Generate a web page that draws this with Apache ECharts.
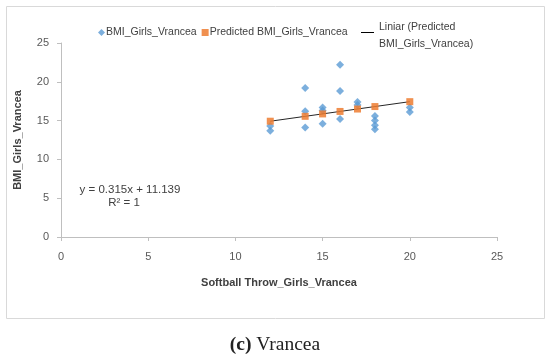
<!DOCTYPE html>
<html><head><meta charset="utf-8">
<script src="https://cdn.jsdelivr.net/npm/echarts@6/dist/echarts.min.js"></script>
<style>html,body{margin:0;padding:0;background:#fff}#c{width:550px;height:358px}</style>
</head><body><div id="c"></div>
<script>
// Observed data
const bmiX = [12, 12, 14, 14, 14, 15, 15, 15, 16, 16, 16, 17, 17, 18, 18, 18, 18, 20, 20];
const bmiY = [14.3, 13.7, 19.2, 16.2, 14.1, 16.7, 16.3, 14.6, 22.2, 18.8, 15.2, 17.4, 17.0, 15.6, 15.0, 14.4, 13.9, 16.7, 16.1];
// Predicted values
const predX = [12, 14, 15, 16, 17, 18, 20];
const predY = [14.92, 15.55, 15.86, 16.18, 16.49, 16.81, 17.44];
// Trend line end points
const trendX = [12, 20];
const trendY = [14.92, 17.44];
const xTicks = [0, 5, 10, 15, 20, 25];
const yTicks = [0, 5, 10, 15, 20, 25];

const font = '"Liberation Sans", Arial, sans-serif';
const chart = echarts.init(document.getElementById('c'), null, {renderer: 'canvas'});
const axisCommon = {
  min: 0, max: 25, interval: 5,
  axisLine: {show: true, lineStyle: {color: '#bfbfbf', width: 1}},
  axisTick: {show: true, length: 4, lineStyle: {color: '#bfbfbf'}},
  splitLine: {show: false},
  nameTextStyle: {fontFamily: font, fontWeight: 'bold', fontSize: 11, color: '#404040'}
};
const trendName = 'Liniar (Predicted\nBMI_Girls_Vrancea)';
chart.setOption({
  animation: false,
  grid: {left: 61, right: 53, top: 43, bottom: 121},
  legend: [{
    left: 93, top: 22, itemGap: 5, itemWidth: 7, itemHeight: 7,
    textStyle: {fontFamily: font, fontSize: 10.5, color: '#404040', padding: [0, 0, 0, -4]},
    data: [
      {name: 'BMI_Girls_Vrancea', icon: 'diamond'},
      {name: 'Predicted BMI_Girls_Vrancea', icon: 'rect'}
    ]
  }, {
    left: 356, top: 14, itemWidth: 13, itemHeight: 12,
    textStyle: {fontFamily: font, fontSize: 10.5, color: '#404040', lineHeight: 17},
    data: [{name: trendName, icon: 'path://M0,0 L20,0 L20,1.2 L0,1.2 Z M0,12 L20,12', itemStyle: {color: '#000'}}]
  }],
  xAxis: Object.assign({}, axisCommon, {
    type: 'value', name: 'Softball Throw_Girls_Vrancea', nameLocation: 'middle', nameGap: 40,
    axisLabel: {margin: 14, fontFamily: font, fontSize: 11, color: '#595959',
      formatter: v => xTicks.includes(v) ? String(v) : ''}
  }),
  yAxis: Object.assign({}, axisCommon, {
    type: 'value', name: 'BMI_Girls_Vrancea', nameLocation: 'middle', nameGap: 38,
    axisLabel: {margin: 12, fontFamily: font, fontSize: 11, color: '#595959',
      formatter: v => yTicks.includes(v) ? String(v) : ''}
  }),
  series: [
    {name: trendName, type: 'line', data: trendX.map((x, i) => [x, trendY[i]]),
      symbol: 'none', lineStyle: {color: '#262626', width: 1}, itemStyle: {color: '#000'}, z: 3},
    {name: 'BMI_Girls_Vrancea', type: 'scatter', symbol: 'diamond', symbolSize: 8,
      itemStyle: {color: '#5b9bd5'}, data: bmiX.map((x, i) => [x, bmiY[i]]), z: 2},
    {name: 'Predicted BMI_Girls_Vrancea', type: 'scatter', symbol: 'rect', symbolSize: 7,
      itemStyle: {color: '#ed7d31', opacity: 0.85}, data: predX.map((x, i) => [x, predY[i]]), z: 4}
  ],
  graphic: [
    {type: 'rect', left: 4, top: 4, shape: {width: 538, height: 312}, silent: true,
      style: {fill: 'none', stroke: '#d9d9d9', lineWidth: 1}},
    {type: 'text', x: 130, y: 184, style: {text: 'y = 0.315x + 11.139', align: 'center',
      fontFamily: font, fontSize: 11.5, fill: '#404040'}},
    {type: 'text', x: 124, y: 197, style: {text: 'R² = 1', align: 'center',
      fontFamily: font, fontSize: 11.5, fill: '#404040'}},
    {type: 'text', x: 275, y: 335, style: {
      text: '{b|(c)} Vrancea', align: 'center', fontFamily: '"Liberation Serif", serif', fontSize: 19.5, fill: '#222',
      rich: {b: {fontWeight: 'bold', fontFamily: '"Liberation Serif", serif', fontSize: 19.5, fill: '#222'}}}}
  ]
});
</script></body></html>
